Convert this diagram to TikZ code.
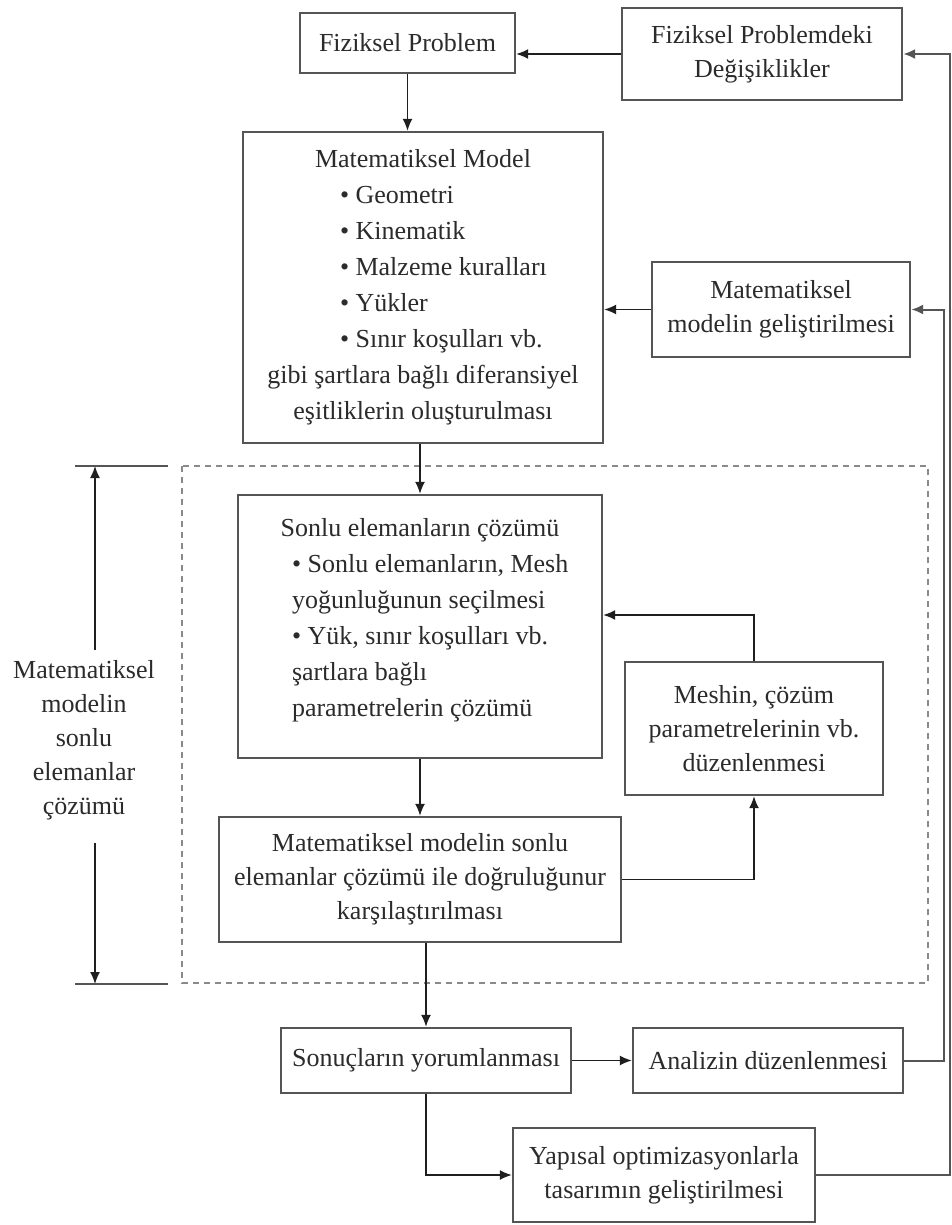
\documentclass[tikz,border=0pt]{standalone}
\usepackage{fontspec}
\setmainfont{Liberation Serif}
\usetikzlibrary{arrows.meta,positioning}
\definecolor{ink}{HTML}{2B2B2B}
\definecolor{frame}{HTML}{555555}
\definecolor{wire}{HTML}{1F1F1F}
\definecolor{dashgray}{HTML}{8A8A8A}
\tikzset{
  flowbox/.style={draw=frame,line width=1.2pt,fill=white,align=center,text=ink,font=\fontsize{13}{17}\selectfont,inner sep=0pt},
  tallbox/.style={flowbox,font=\fontsize{13}{18}\selectfont},
  flowarrow/.style={-{Latex[length=6pt,width=5pt]},line width=0.75pt,draw=wire},
  loopline/.style={-{Latex[length=6pt,width=5pt]},line width=1pt,draw=frame},
  dashframe/.style={draw=dashgray,line width=0.8pt,dash pattern=on 3pt off 2.5pt},
  dimline/.style={line width=1pt,draw=frame}
}

\begin{document}
\begin{tikzpicture}[x=0.5pt,y=-0.5pt]
  \useasboundingbox[fill=white] (0,0) rectangle (952,1225);

  % area of the finite element solution
  \draw[dashframe] (182,466) rectangle (928,983);

  % boxes
  \node[flowbox,minimum width=107.5pt,minimum height=30pt] (fp) at (407.5,43) {Fiziksel Problem};
  \node[flowbox,minimum width=140pt,minimum height=46pt] (fpd) at (762,54) {Fiziksel Problemdeki\\Değişiklikler};
  \node[tallbox,minimum width=180pt,minimum height=155.5pt] (mm) at (423,287.5) {Matematiksel Model\\
    \makebox[83pt][l]{• Geometri}\\
    \makebox[83pt][l]{• Kinematik}\\
    \makebox[83pt][l]{• Malzeme kuralları}\\
    \makebox[83pt][l]{• Yükler}\\
    \makebox[83pt][l]{• Sınır koşulları vb.}\\
    gibi şartlara bağlı diferansiyel\\eşitliklerin oluşturulması};
  \node[flowbox,minimum width=129pt,minimum height=47.5pt] (mgg) at (781,309.5) {Matematiksel\\modelin geliştirilmesi};
  \node[tallbox,minimum width=182pt,minimum height=131.5pt] (sec) at (420,626.5) {Sonlu elemanların çözümü\\
    \makebox[128pt][l]{• Sonlu elemanların, Mesh}\\
    \makebox[128pt][l]{yoğunluğunun seçilmesi}\\
    \makebox[128pt][l]{• Yük, sınır koşulları vb.}\\
    \makebox[128pt][l]{şartlara bağlı}\\
    \makebox[128pt][l]{parametrelerin çözümü}\\[-9pt]\mbox{}};
  \node[flowbox,minimum width=129pt,minimum height=66.5pt] (mesh) at (754,728.5) {Meshin, çözüm\\parametrelerinin vb.\\düzenlenmesi};
  \node[flowbox,minimum width=201pt,minimum height=62.5pt] (msc) at (420,879.5) {Matematiksel modelin sonlu\\elemanlar çözümü ile doğruluğunur\\karşılaştırılması};
  \node[flowbox,minimum width=145pt,minimum height=32.5pt] (son) at (426,1060.5) {Sonuçların yorumlanması};
  \node[flowbox,minimum width=135pt,minimum height=32.5pt] (anl) at (768,1060.5) {Analizin düzenlenmesi};
  \node[flowbox,minimum width=151pt,minimum height=47pt] (yap) at (664,1175) {Yapısal optimizasyonlarla\\tasarımın geliştirilmesi};

  % side label with its span
  \node[flowbox,draw=none,fill=none] (side) at (84,740) {Matematiksel\\modelin\\sonlu\\elemanlar\\çözümü};
  \coordinate (dimTop) at (95,466);
  \coordinate (dimBot) at (95,984);
  \coordinate (sideUp) at (95,650);
  \coordinate (sideDown) at (95,843);
  \draw[dimline] ([xshift=-10pt]dimTop) -- ([xshift=36.5pt]dimTop);
  \draw[dimline] ([xshift=-10pt]dimBot) -- ([xshift=36.5pt]dimBot);
  \draw[flowarrow] (sideUp) -- (dimTop);
  \draw[flowarrow] (sideDown) -- (dimBot);

  % feedback lines on the right
  \coordinate (outerX) at (950,0);
  \coordinate (innerX) at (944,0);
  \draw[loopline] (yap.east) -- (yap.east -| outerX) -- (outerX |- fpd.east) -- (fpd.east);
  \draw[loopline] (anl.east) -- (anl.east -| innerX) -- (innerX |- mgg.east) -- (mgg.east);

  % main flow
  \draw[flowarrow] (fpd.west) -- (fpd.west -| fp.east);
  \draw[flowarrow] (fp.south) -- (fp.south |- mm.north);
  \draw[flowarrow] (mgg.west) -- (mgg.west -| mm.east);
  \draw[flowarrow] (mm.south -| sec.north) -- (sec.north);
  \draw[flowarrow] (sec.south) -- (msc.north);
  \draw[flowarrow] (msc.east) -| (mesh.south);
  \draw[flowarrow] (mesh.north) |- ([yshift=5.75pt]sec.east);
  \draw[flowarrow] (msc.south -| son.north) -- (son.north);
  \draw[flowarrow] (son.east) -- (anl.west);
  \draw[flowarrow] (son.south) |- (yap.west);
\end{tikzpicture}
\end{document}
